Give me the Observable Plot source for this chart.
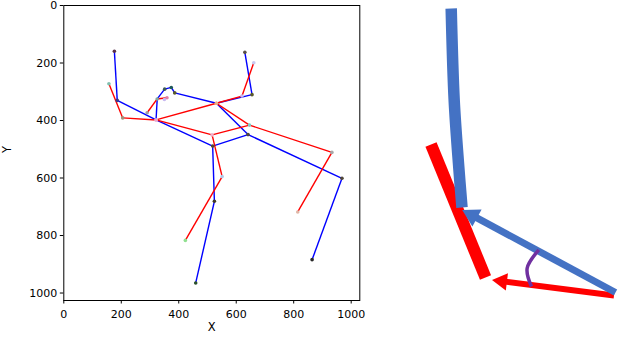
<!DOCTYPE html>
<html><head><meta charset="utf-8">
<script src="https://cdn.jsdelivr.net/npm/d3@7"></script>
<script src="https://cdn.jsdelivr.net/npm/@observablehq/plot@0.6"></script>
<style>
body{margin:0;background:#fff}
#wrap{display:flex;width:618px;height:340px;overflow:hidden}
svg{display:block}
</style>
</head><body><div id="wrap"></div>
<script>
// ---- Left panel: two skeletons (image pixel coordinates) ----
const xTicks = [0, 200, 400, 600, 800, 1000];
const yTicks = [0, 200, 400, 600, 800, 1000];

const blueX = [176, 186, 321, 325, 351, 374, 386, 531, 655, 630, 518, 641, 524, 459, 968, 864];
const blueY = [159, 330, 398, 325, 291, 285, 304, 340, 310, 163, 489, 449, 681, 965, 601, 884];
const blueEdges = [[0,1],[1,2],[2,10],[2,3],[3,4],[4,5],[5,6],[6,7],[7,8],[8,9],[7,11],[10,11],[11,14],[10,12],[12,13],[14,15]];
const blueDotColors = ["#5a3048","#3a3a8a","#e8a8d0","#80a8a0","#3a5858","#1f5858","#5a5a2a","#e8b088","#5a5a2a","#5a5048","#504838","#504838","#403828","#2a502a","#504838","#282828"];

const redX = [157, 205, 321, 290, 325, 359, 531, 620, 661, 516, 646, 933, 551, 423, 814, 350];
const redY = [272, 391, 398, 373, 325, 321, 340, 315, 199, 450, 416, 511, 595, 817, 718, 327];
const redEdges = [[0,1],[1,2],[2,6],[2,9],[3,4],[4,5],[6,7],[7,8],[6,10],[10,11],[9,10],[9,12],[12,13],[11,14]];
const redDotColors = ["#80c0b0","#a09078","#e8a8d0","#a0a0a0",null,"#e080a8","#e8b088","#c8b8f0","#c8c8f0","#f0b0c8","#80c8c0","#a8a8a8","#b0c8e8","#90e090","#e0b8a8","#c8b8f0"];

// ---- Right panel: arrows diagram (panel pixel coordinates) ----
const blueBarX = [450.7, 453.7, 458.3, 461.5];
const blueBarY = [8, 100, 167, 207];
const redBarX = [430.5, 485];
const redBarY = [144, 277];
const arrowNames = ["blue", "red"];
const arrowTailX = [615, 613.5];
const arrowTailY = [292, 295];
const arrowTipX = [461.7, 491.5];
const arrowTipY = [209.5, 279.5];
const arrowHalf = [5.6, 5.0];      // arrowhead size
const arrowWidth = [7, 6];
const arcX = [538.3, 526.7, 531];
const arcY = [249.3, 267.5, 286];

const BLUE = "#0000ff", RED = "#ff0000";
const links = (X, Y, E) => E.map(([a, b]) => ({x1: X[a], y1: Y[a], x2: X[b], y2: Y[b]}));
const dots = (X, Y, C) => X.map((x, i) => ({x, y: Y[i], c: C[i]})).filter(d => d.c);

const left = Plot.plot({
  width: 380, height: 340,
  marginLeft: 63.3, marginRight: 20.7, marginTop: 5, marginBottom: 40,
  style: {fontFamily: "DejaVu Sans", fontSize: "11px", color: "black", background: "white"},
  x: {domain: [0, 1030]},
  y: {domain: [0, 1026], reverse: true},
  marks: [
    Plot.link(links(blueX, blueY, blueEdges), {x1: "x1", y1: "y1", x2: "x2", y2: "y2", stroke: BLUE, strokeWidth: 1.4}),
    Plot.link(links(redX, redY, redEdges), {x1: "x1", y1: "y1", x2: "x2", y2: "y2", stroke: RED, strokeWidth: 1.4}),
    Plot.dot(dots(blueX, blueY, blueDotColors), {x: "x", y: "y", fill: d => d.c, r: 1.8}),
    Plot.dot(dots(redX, redY, redDotColors), {x: "x", y: "y", fill: d => d.c, r: 1.8}),
    Plot.frame({stroke: "black", strokeWidth: 1}),
    Plot.axisX({ticks: xTicks, tickFormat: d3.format("d"), tickSize: 3.5, tickPadding: 6.5, label: null, fontSize: 11}),
    Plot.axisY({ticks: yTicks, tickFormat: d3.format("d"), tickSize: 3.5, tickPadding: 3, label: null, fontSize: 11}),
    Plot.text(["X"], {frameAnchor: "bottom", dy: 27, fontSize: 11.5, lineAnchor: "middle"}),
    Plot.text(["Y"], {frameAnchor: "left", dx: -56, rotate: -90, fontSize: 11.5})
  ]
});

// arrows: shaft + triangular head
const arrows = arrowNames.map((n, i) => {
  const dx = arrowTipX[i] - arrowTailX[i], dy = arrowTipY[i] - arrowTailY[i];
  const L = Math.hypot(dx, dy), ux = dx / L, uy = dy / L;
  const h = arrowHalf[i];
  return {
    color: n === "blue" ? "#4472c4" : "#ff0000",
    x1: arrowTailX[i], y1: arrowTailY[i],
    x2: arrowTipX[i] - ux * 2.6 * h, y2: arrowTipY[i] - uy * 2.6 * h,
    cx: arrowTipX[i] - ux * 2 * h, cy: arrowTipY[i] - uy * 2 * h,
    rot: Math.atan2(ux, -uy) * 180 / Math.PI,
    r: Math.sqrt(3 * Math.sqrt(3) * h * h / Math.PI),
    w: arrowWidth[i]
  };
});
const ord = [1, 0];
const right = Plot.plot({
  width: 238, height: 340, margin: 0,
  style: {background: "white"},
  x: {domain: [380, 618], axis: null},
  y: {domain: [0, 340], reverse: true, axis: null},
  marks: [
    Plot.line(redBarX.map((x, i) => ({x, y: redBarY[i]})), {x: "x", y: "y", stroke: "#ff0000", strokeWidth: 12, strokeLinecap: "butt"}),
    Plot.line(blueBarX.map((x, i) => ({x, y: blueBarY[i]})), {x: "x", y: "y", stroke: "#4472c4", strokeWidth: 11.5, strokeLinecap: "butt", curve: "catmull-rom"}),
    ...ord.map(i => Plot.link([arrows[i]], {x1: "x1", y1: "y1", x2: "x2", y2: "y2", stroke: arrows[i].color, strokeWidth: arrows[i].w, strokeLinecap: "butt"})),
    ...ord.map(i => Plot.dot([arrows[i]], {x: "cx", y: "cy", symbol: "triangle", r: arrows[i].r, rotate: "rot", fill: arrows[i].color, stroke: "none"})),
    Plot.line(arcX.map((x, i) => ({x, y: arcY[i]})), {x: "x", y: "y", stroke: "#7030a0", strokeWidth: 3.5, curve: "natural", strokeLinecap: "butt"})
  ]
});

const wrap = document.getElementById("wrap");
wrap.appendChild(left);
wrap.appendChild(right);
</script>
</body></html>
